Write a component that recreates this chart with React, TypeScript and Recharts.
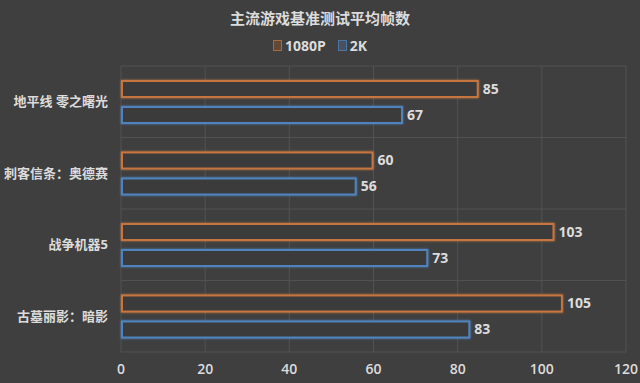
import {
  Bar,
  BarChart,
  CartesianGrid,
  LabelList,
  XAxis,
  YAxis,
} from "recharts";

const games = ["地平线 零之曙光", "刺客信条：奥德赛", "战争机器5", "古墓丽影：暗影"];
const fps1080 = [85, 60, 103, 105];
const fps2k = [67, 56, 73, 83];
const xTicks = [0, 20, 40, 60, 80, 100, 120];

const ORANGE = "#c4753f";
const BLUE = "#5083bd";
const BG = "#3f3f3f";
const TEXT = "#dcdcdc";
const FONT = "'Open Sans', 'Noto Sans CJK SC', sans-serif";

const data = games.map((game, i) => ({
  game,
  p1080: fps1080[i],
  p2k: fps2k[i],
}));

function OutlineBar(color: string, glowId: string) {
  return (props: any) => {
    const { x, y, width, height } = props;
    if (!width || width <= 0) return <g />;
    return (
      <rect
        x={x + 1}
        y={y + 1}
        width={width - 2}
        height={height - 2}
        fill="#3a3a3a"
        stroke={color}
        strokeWidth={2}
        filter={`url(#${glowId})`}
      />
    );
  };
}

function LegendItem({ color, fill, label }: { color: string; fill: string; label: string }) {
  return (
    <span style={{ display: "inline-flex", alignItems: "center", margin: "0 6px" }}>
      <span
        style={{
          display: "inline-block",
          width: 7,
          height: 9,
          border: `1px solid ${color}`,
          background: fill,
          marginRight: 3,
          opacity: 0.8,
        }}
      />
      <span>{label}</span>
    </span>
  );
}

export default function App(): JSX.Element {
  return (
    <div
      style={{
        position: "fixed",
        left: 0,
        top: 0,
        width: 640,
        height: 383,
        background: BG,
        fontFamily: FONT,
        color: TEXT,
        overflow: "hidden",
      }}
    >
      <svg width={0} height={0} style={{ position: "absolute" }}>
        <defs>
          <filter id="glowO" x="-5%" y="-40%" width="110%" height="180%">
            <feGaussianBlur stdDeviation="1.2" result="b" />
            <feMerge>
              <feMergeNode in="b" />
              <feMergeNode in="SourceGraphic" />
            </feMerge>
          </filter>
          <filter id="glowB" x="-5%" y="-40%" width="110%" height="180%">
            <feGaussianBlur stdDeviation="1.2" result="b" />
            <feMerge>
              <feMergeNode in="b" />
              <feMergeNode in="SourceGraphic" />
            </feMerge>
          </filter>
        </defs>
      </svg>
      <div
        style={{
          position: "absolute",
          top: 7,
          width: "100%",
          textAlign: "center",
          fontSize: 15,
          fontWeight: 700,
        }}
      >
        主流游戏基准测试平均帧数
      </div>
      <div
        style={{
          position: "absolute",
          top: 36,
          width: "100%",
          textAlign: "center",
          fontSize: 14,
          fontWeight: 700,
        }}
      >
        <LegendItem color={ORANGE} fill="#6e4a33" label="1080P" />
        <LegendItem color={BLUE} fill="#4a5668" label="2K" />
      </div>
      <BarChart
        width={640}
        height={383}
        data={data}
        layout="vertical"
        margin={{ top: 66, right: 14, left: 0, bottom: 0 }}
        barSize={18}
        barGap={8}
      >
        <CartesianGrid
          stroke="#525252"
          horizontalCoordinatesGenerator={({ offset }: any) =>
            games.map((_, i) => offset.top + (offset.height * i) / games.length).concat(offset.top + offset.height)
          }
        />
        <XAxis
          type="number"
          domain={[0, 120]}
          ticks={xTicks}
          axisLine={false}
          tickLine={false}
          tickSize={0}
          tickMargin={12}
          height={31}
          tick={{ fill: TEXT, fontSize: 14, fontWeight: 600, fontFamily: FONT }}
        />
        <YAxis
          type="category"
          dataKey="game"
          width={121}
          axisLine={false}
          tickLine={false}
          tickSize={0}
          tickMargin={13}
          tick={{ fill: TEXT, fontSize: 13, fontWeight: 700, fontFamily: FONT }}
        />
        <Bar dataKey="p1080" isAnimationActive={false} shape={OutlineBar(ORANGE, "glowO")}>
          <LabelList
            dataKey="p1080"
            position="right"
            offset={4}
            fill={TEXT}
            fontSize={14}
            fontWeight={700}
            fontFamily={FONT}
          />
        </Bar>
        <Bar dataKey="p2k" isAnimationActive={false} shape={OutlineBar(BLUE, "glowB")}>
          <LabelList
            dataKey="p2k"
            position="right"
            offset={4}
            fill={TEXT}
            fontSize={14}
            fontWeight={700}
            fontFamily={FONT}
          />
        </Bar>
      </BarChart>
    </div>
  );
}
